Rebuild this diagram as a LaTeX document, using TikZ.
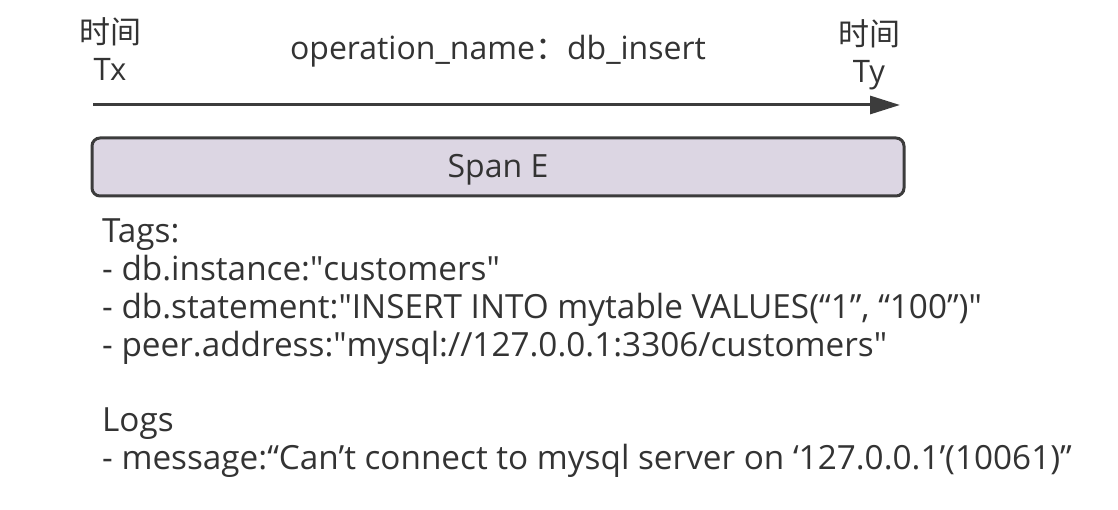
\documentclass[tikz,border=0pt]{standalone}
\usepackage{fontspec}
\setmainfont{Open Sans}
\newfontfamily\cjk{Noto Sans CJK SC}
\usepackage{tikz}
\usetikzlibrary{arrows.meta, positioning}

\definecolor{spanfill}{HTML}{DCD6E3}
\definecolor{linegray}{HTML}{3C3C3C}
\definecolor{textgray}{HTML}{333333}

\begin{document}
\begin{tikzpicture}[
    x=1pt, y=-1pt,
    timelabel/.style={inner sep=0pt, align=center, text=textgray, font=\fontsize{31}{37}\selectfont},
    opname/.style={inner sep=0pt, text=textgray, font=\fontsize{32}{36}\selectfont},
    spanbox/.style={rectangle, draw=linegray, fill=spanfill, line width=3pt, rounded corners=8pt, minimum width=812pt, minimum height=58pt, text height=24pt, text depth=3pt, text=textgray, font=\fontsize{32}{36}\selectfont},
    infoblock/.style={inner sep=0pt, anchor=north west, align=left, text=textgray, font=\fontsize{33.3}{38}\selectfont},
    arrow/.style={-{Triangle[length=30pt, width=18pt]}, line width=3pt, draw=linegray}
]
\useasboundingbox (0,0) rectangle (1118,510);

% Time axis
\node[timelabel] (tx) at (110,49) {{\cjk 时间}\\Tx};
\node[timelabel] (ty) at (869,55) {{\cjk 时间}\\Ty};
\node[opname] (op) at (498,51) {operation\_name{\cjk ：}db\_insert};
\coordinate (tstart) at (93,105);
\coordinate (tend) at (900,105);
\draw[arrow] (tstart) -- (tend);

% Span
\node[spanbox] (span) at (498,167) {Span E};

% Tags and logs
\node[infoblock] (tags) at (102,219) {Tags:\\
- db.instance:\textquotedbl customers\textquotedbl\\
- db.statement:\textquotedbl INSERT INTO mytable VALUES(“1”, “100”)\textquotedbl\\
- peer.address:\textquotedbl mysql://127.0.0.1:3306/customers\textquotedbl};
\node[infoblock] (logs) at (102,408) {Logs\\
- message:“Can’t connect to mysql server on ‘127.0.0.1’(10061)”};

\end{tikzpicture}
\end{document}
